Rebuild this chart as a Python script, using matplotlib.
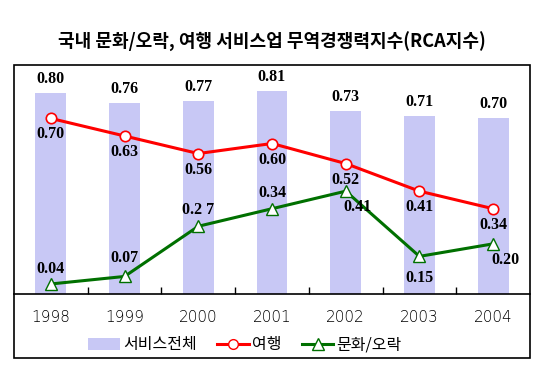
import matplotlib
matplotlib.use("Agg")
import matplotlib.pyplot as plt
from matplotlib.patches import Rectangle
from matplotlib.lines import Line2D
from matplotlib.patches import Patch
import numpy as np

plt.rcParams['font.family'] = ['Noto Sans CJK KR', 'DejaVu Sans']

years = ['1998', '1999', '2000', '2001', '2002', '2003', '2004']
service_total = [0.80, 0.76, 0.77, 0.81, 0.73, 0.71, 0.70]
travel = [0.70, 0.63, 0.56, 0.60, 0.52, 0.41, 0.34]
culture = [0.04, 0.07, 0.27, 0.34, 0.41, 0.15, 0.20]
culture_labels = ['0.04', '0.07', '0.2 7', '0.34', '0.41', '0.15', '0.20']
title = '국내 문화/오락, 여행 서비스업 무역경쟁력지수(RCA지수)'
legend_labels = ['서비스전체', '여행', '문화/오락']

W, H = 543, 384
fig = plt.figure(figsize=(W/100, H/100), dpi=100)
fig.patch.set_facecolor('white')

def fx(px): return px / W
def fy(py): return 1 - py / H

# outer frame
fig.add_artist(Rectangle((fx(14), fy(358)), fx(530) - fx(14), fy(65) - fy(358),
                         transform=fig.transFigure, fill=False, edgecolor='black', lw=1.2))

ax = fig.add_axes([fx(14), fy(294), fx(530) - fx(14), fy(67) - fy(294)])
x = np.arange(len(years))
ax.bar(x, service_total, width=0.42, color='#C8C8F5', zorder=1)
ax.plot(x, travel, color='#FF0000', lw=2.2, marker='o', ms=7.5, mfc='white', mec='#FF0000', mew=1.2, zorder=3)
ax.plot(x, culture, color='#007000', lw=2.2, marker='^', ms=9, mfc='white', mec='#007000', mew=1.0, zorder=3)

ax.set_xlim(-0.5, len(years) - 0.5)
ax.set_ylim(0, 0.905)
for s in ['top', 'left', 'right']:
    ax.spines[s].set_visible(False)
ax.spines['bottom'].set_linewidth(1.2)
ax.set_yticks([])
ax.set_xticks(np.arange(0.5, len(years) - 1, 1.0))
ax.set_xticklabels([])
ax.tick_params(axis='x', direction='in', length=5, width=1)
ax.set_facecolor('none')

lab_font = dict(family='Liberation Serif', fontweight='bold', fontsize=11.5)
for i, v in enumerate(service_total):
    ax.annotate(f'{v:.2f}', (i, v), xytext=(0, 14), textcoords='offset pixels',
                ha='center', va='center', **lab_font)
for i, v in enumerate(travel):
    ax.annotate(f'{v:.2f}', (i, v), xytext=(0, -16), textcoords='offset pixels',
                ha='center', va='center', **lab_font)
green_off = [(0, 15), (0, 18), (0, 16), (0, 16), (12, -16), (0, -22), (12, -16)]
for i, v in enumerate(culture):
    ax.annotate(culture_labels[i], (i, v), xytext=green_off[i], textcoords='offset pixels',
                ha='center', va='center', **lab_font)

for i, yr in enumerate(years):
    fig.text(fx(14 + 73.7 * (i + 0.5)), fy(317), yr, ha='center', va='center',
             fontsize=11, family='DejaVu Sans', fontweight='light')

fig.text(0.5, fy(42), title, ha='center', va='center', fontsize=13, fontweight='bold')

handles = [Patch(facecolor='#C8C8F5', edgecolor='none'),
           Line2D([], [], color='#FF0000', lw=2.2, marker='o', ms=7, mfc='white', mec='#FF0000'),
           Line2D([], [], color='#007000', lw=2.2, marker='^', ms=8, mfc='white', mec='#007000')]
fig.legend(handles, legend_labels, loc='center', bbox_to_anchor=(fx(245), fy(345)), ncol=3,
           frameon=False, fontsize=11.5, handlelength=2.0, handletextpad=0.2, columnspacing=1.25,
           borderaxespad=0)

fig.savefig('out.png', dpi=100, facecolor='white')
